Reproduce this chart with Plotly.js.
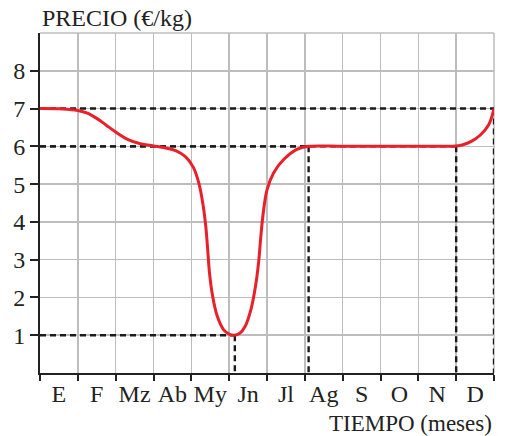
<!DOCTYPE html>
<html>
<head>
<meta charset="utf-8">
<script src="https://cdn.plot.ly/plotly-3.0.1.min.js"></script>
<style>html,body{margin:0;padding:0;background:#fff;}#chart{width:511px;height:436px;}</style>
</head>
<body>
<div id="chart"></div>
<script>
// Month labels (centered in each month interval)
var months = ["E","F","Mz","Ab","My","Jn","Jl","Ag","S","O","N","D"];
var monthPos = [0.5,1.5,2.5,3.5,4.5,5.5,6.5,7.5,8.5,9.5,10.5,11.5];
var yTicks = [1,2,3,4,5,6,7,8];

// Price curve (x in months, y in €/kg)
var priceX = [0, 0.6, 1.0, 1.25, 1.5, 1.75, 2.0, 2.33, 2.65, 3.0, 3.3, 3.6, 3.85, 4.05, 4.2, 4.31, 4.38, 4.43, 4.48, 4.56, 4.68, 4.85, 5.0, 5.13, 5.28, 5.42, 5.58, 5.70, 5.78, 5.84, 5.9, 6.0, 6.17, 6.44, 6.79, 7.1, 8.0, 9.0, 10.0, 10.7, 11.0, 11.2, 11.4, 11.64, 11.86, 12];
var priceY = [7.0, 6.99, 6.95, 6.88, 6.74, 6.56, 6.38, 6.18, 6.07, 6.01, 5.96, 5.88, 5.72, 5.45, 5.02, 4.45, 3.9, 3.3, 2.65, 2.05, 1.52, 1.15, 1.03, 1.0, 1.05, 1.23, 1.70, 2.32, 2.95, 3.65, 4.23, 4.85, 5.29, 5.65, 5.92, 6.0, 6.0, 6.0, 6.0, 6.0, 6.01, 6.05, 6.13, 6.30, 6.57, 7.0];

// Reference points projected with dashed guides onto both axes
var guideX = [5.15, 7.1, 11, 12];
var guideY = [1, 6, 6, 7];

var traces = [];
for (var i = 0; i < guideX.length; i++) {
  traces.push({x:[0, guideX[i]], y:[guideY[i], guideY[i]], mode:'lines', xaxis:'x', yaxis:'y',
    line:{color:'#1a1a1a', width:2.4, dash:'6px,4px'}, hoverinfo:'skip', showlegend:false});
  traces.push({x:[guideX[i], guideX[i]], y:[guideY[i], 0], mode:'lines', xaxis:'x', yaxis:'y',
    line:{color:'#1a1a1a', width:2.4, dash:'6px,4px'}, hoverinfo:'skip', showlegend:false});
}
traces.push({x:priceX, y:priceY, mode:'lines', xaxis:'x', yaxis:'y',
  line:{color:'#e8202a', width:3, shape:'spline', smoothing:1.0}, showlegend:false, hoverinfo:'skip'});

var serif = "Liberation Serif, Times New Roman, serif";
var layout = {
  width:511, height:436,
  margin:{l:40, r:17, t:33, b:63},
  paper_bgcolor:'#fff', plot_bgcolor:'#fff',
  font:{family:serif, color:'#222'},
  xaxis:{range:[0,12], tickvals:[0,1,2,3,4,5,6,7,8,9,10,11,12], showticklabels:false,
    ticks:'outside', ticklen:6, tickwidth:2, tickcolor:'#222',
    showgrid:true, gridcolor:'#bdbdbd', gridwidth:1.5,
    showline:true, linecolor:'#222', linewidth:2, zeroline:false, fixedrange:true},
  xaxis2:{range:[0,12], overlaying:'x', side:'bottom', anchor:'y', tickvals:monthPos, ticktext:months,
    ticks:'', showgrid:false, showline:false, zeroline:false, ticklabelstandoff:4,
    tickfont:{family:serif, size:24, color:'#222'}},
  yaxis:{range:[0,9], tickvals:yTicks, ticks:'outside', ticklen:8, tickwidth:2, tickcolor:'#222',
    tickfont:{family:serif, size:24, color:'#222'},
    showgrid:true, gridcolor:'#bdbdbd', gridwidth:1.5,
    showline:true, linecolor:'#222', linewidth:2, zeroline:false, fixedrange:true},
  shapes:[
    {type:'line', xref:'paper', yref:'paper', x0:0, x1:1, y0:1, y1:1, line:{color:'#bdbdbd', width:1.5}},
    {type:'line', xref:'paper', yref:'paper', x0:1, x1:1, y0:0, y1:1, line:{color:'#bdbdbd', width:1.5}, layer:'below'}
  ],
  annotations:[
    {text:'PRECIO (€/kg)', xref:'paper', yref:'paper', x:0, y:1.0, xanchor:'left', yanchor:'bottom', yshift:0,
     showarrow:false, font:{family:serif, size:24, color:'#222'}},
    {text:'TIEMPO (meses)', xref:'paper', yref:'paper', x:1.0, y:0, xanchor:'right', yanchor:'top', yshift:-36,
     showarrow:false, font:{family:serif, size:23, color:'#222'}}
  ]
};
traces.push({x:[0], y:[0], xaxis:'x2', yaxis:'y', mode:'markers', marker:{opacity:0}, hoverinfo:'skip', showlegend:false});

Plotly.newPlot('chart', traces, layout, {staticPlot:true, displayModeBar:false});
</script>
</body>
</html>
